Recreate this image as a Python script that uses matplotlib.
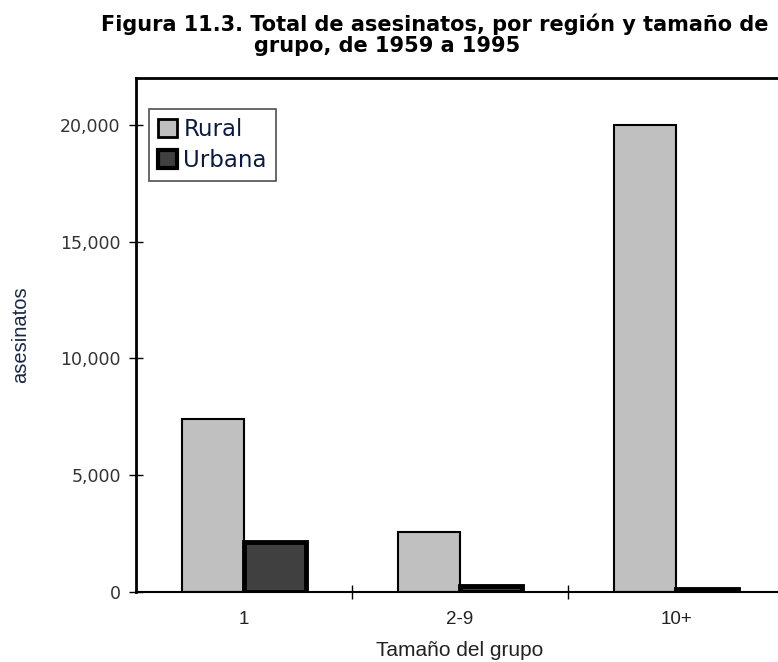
import numpy as np
import matplotlib.pyplot as plt
from matplotlib.patches import Patch

## DATA #####################
categories = ['1', '2-9', '10+']
rural = [7400, 2580, 20000]
urbana = [2150, 260, 130]
yticks = [0, 5000, 10000, 15000, 20000]
#############################

fig = plt.figure(figsize=(7.78, 6.62), dpi=100)
ax = fig.add_axes([136/778, 1 - 592/662, 648/778, (592 - 78)/662])

x = np.arange(len(categories))
w = 0.287
ax.bar(x - w, rural, width=w, align='edge', color='#c0c0c0',
       edgecolor='black', linewidth=1.5, label='Rural', zorder=2)
ax.bar(x, urbana, width=w, align='edge', color='#404040',
       edgecolor='black', linewidth=3.5, label='Urbana', zorder=2)

ax.set_xlim(-0.5, 2.5)
ax.set_ylim(0, 22000)
ax.set_yticks(yticks)
ax.set_yticklabels(['{:,}'.format(v) for v in yticks],
                   fontsize=12.5, color='#333333', family='DejaVu Sans')
ax.set_xticks(x)
ax.set_xticklabels(categories, fontsize=13.5, color='#222222',
                   family='Liberation Sans')
ax.set_xticks([0.5, 1.5], minor=True)
ax.tick_params(axis='x', which='major', length=0, pad=14)
ax.tick_params(axis='x', which='minor', direction='inout', length=10,
               width=1)
ax.tick_params(axis='y', direction='inout', length=10, width=1, pad=6)

for s in ['left', 'top']:
    ax.spines[s].set_linewidth(2)
ax.spines['bottom'].set_linewidth(1.5)
ax.spines['right'].set_visible(False)

ax.set_ylabel('asesinatos', fontsize=14.5, color='#1a2744',
              family='Liberation Sans')
ax.yaxis.set_label_coords(-(136 - 30)/648, (592 - 335)/514)
ax.set_xlabel('Tamaño del grupo', fontsize=15, color='#222222',
              family='Liberation Sans')
ax.xaxis.set_label_coords((460 - 136)/648, -(641 - 592)/514)

handles = [Patch(facecolor='#c0c0c0', edgecolor='black', linewidth=2),
           Patch(facecolor='#404040', edgecolor='black', linewidth=3)]
leg = ax.legend(handles, ['Rural', 'Urbana'], loc='upper left',
                bbox_to_anchor=((149 - 136)/648, 1 - (109 - 78)/514),
                fontsize=16.5, frameon=True, fancybox=False,
                handlelength=0.8, handleheight=0.8, handletextpad=0.3,
                borderpad=0.4, labelspacing=0.35, borderaxespad=0)
leg.get_frame().set_edgecolor('#222222')
leg.get_frame().set_linewidth(1.2)
for t in leg.get_texts():
    t.set_color('#0d1a40')

fig.text(435/778, 1 - 24/662, 'Figura 11.3. Total de asesinatos, por región y tamaño de',
         ha='center', va='center', fontsize=15, fontweight='bold',
         family='DejaVu Sans')
fig.text(387/778, 1 - 46/662, 'grupo, de 1959 a 1995',
         ha='center', va='center', fontsize=15, fontweight='bold',
         family='DejaVu Sans')

fig.savefig('out.png', dpi=100)
